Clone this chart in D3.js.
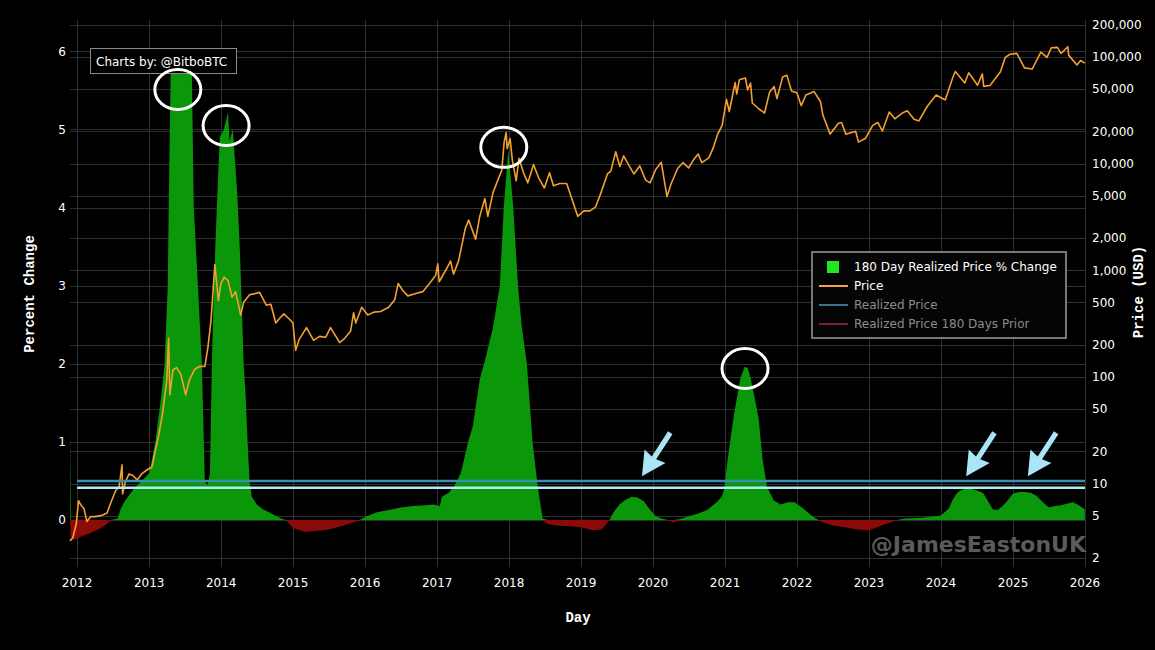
<!DOCTYPE html>
<html lang="en">
<head>
<meta charset="UTF-8">
<title>180 Day Realized Price % Change</title>
<style>
  * { margin: 0; padding: 0; }
  body { background: #000; }
  #chart { width: 1155px; height: 650px; }
  text { font-family: 'DejaVu Sans', Verdana, sans-serif; }
</style>
</head>
<body>
<div id="chart"></div>
<script src="https://cdn.jsdelivr.net/npm/d3@7"></script>
<script>
  // 180 day realized price % change (left axis)
  const changeSeries = [
    ['2011-11-26', 1.23], ['2011-11-30', -0.22], ['2011-12-10', -0.25], ['2012-01-01', -0.24],
    ['2012-02-01', -0.2], ['2012-03-15', -0.16], ['2012-05-01', -0.1], ['2012-06-01', -0.05],
    ['2012-06-20', 0], ['2012-07-25', 0.02], ['2012-08-10', 0.15], ['2012-09-01', 0.25],
    ['2012-10-15', 0.4], ['2012-12-01', 0.52], ['2013-01-01', 0.6], ['2013-02-01', 1.0],
    ['2013-03-01', 1.54], ['2013-03-20', 2.0], ['2013-04-05', 3.0], ['2013-04-10', 4.0],
    ['2013-04-20', 5.77], ['2013-08-05', 5.77], ['2013-08-15', 4.0], ['2013-09-05', 3.0],
    ['2013-09-25', 2.0], ['2013-10-05', 1.0], ['2013-10-10', 0.49], ['2013-10-25', 0.45],
    ['2013-11-05', 0.6], ['2013-11-15', 2.0], ['2013-11-25', 3.0], ['2013-12-10', 4.0],
    ['2013-12-25', 4.9], ['2014-01-15', 5.0], ['2014-02-05', 5.22], ['2014-02-12', 4.85],
    ['2014-03-01', 5.0], ['2014-03-15', 4.5], ['2014-03-25', 4.1], ['2014-04-05', 3.5],
    ['2014-04-15', 2.8], ['2014-04-25', 2.0], ['2014-05-05', 1.6], ['2014-05-15', 1.0],
    ['2014-05-25', 0.5], ['2014-06-05', 0.3], ['2014-07-01', 0.2], ['2014-08-01', 0.14],
    ['2014-09-01', 0.1], ['2014-10-01', 0.06], ['2014-11-01', 0.02], ['2014-11-25', 0],
    ['2015-01-01', -0.1], ['2015-03-01', -0.15], ['2015-05-01', -0.14], ['2015-07-01', -0.12],
    ['2015-09-01', -0.08], ['2015-11-01', -0.03], ['2015-12-05', 0], ['2016-01-01', 0.04],
    ['2016-03-01', 0.1], ['2016-05-01', 0.13], ['2016-07-01', 0.16], ['2016-09-01', 0.18],
    ['2016-11-01', 0.19], ['2016-12-15', 0.2], ['2017-01-15', 0.18], ['2017-01-25', 0.3],
    ['2017-03-01', 0.35], ['2017-04-01', 0.45], ['2017-05-01', 0.6], ['2017-06-07', 1.0],
    ['2017-07-01', 1.2], ['2017-08-05', 1.8], ['2017-09-01', 2.05], ['2017-10-10', 2.45],
    ['2017-11-15', 3.0], ['2017-12-05', 4.0], ['2017-12-28', 4.74], ['2018-01-22', 4.0],
    ['2018-02-15', 3.0], ['2018-03-05', 2.5], ['2018-04-01', 2.0], ['2018-04-30', 1.0],
    ['2018-05-25', 0.45], ['2018-06-20', 0.02], ['2018-07-15', -0.05], ['2018-09-01', -0.07],
    ['2018-11-01', -0.08], ['2019-01-01', -0.09], ['2019-03-01', -0.13], ['2019-04-15', -0.12],
    ['2019-05-10', -0.05], ['2019-05-25', 0], ['2019-06-15', 0.1], ['2019-07-15', 0.2],
    ['2019-08-15', 0.26], ['2019-09-15', 0.3], ['2019-10-15', 0.29], ['2019-11-15', 0.24],
    ['2019-12-15', 0.14], ['2020-01-15', 0.05], ['2020-02-15', 0.02], ['2020-03-15', 0],
    ['2020-04-15', -0.03], ['2020-05-15', 0.01], ['2020-07-01', 0.05], ['2020-08-15', 0.08],
    ['2020-10-01', 0.13], ['2020-11-15', 0.22], ['2020-12-15', 0.3], ['2020-12-28', 0.4],
    ['2021-01-10', 0.7], ['2021-01-25', 0.98], ['2021-02-15', 1.35], ['2021-03-01', 1.55],
    ['2021-03-20', 1.82], ['2021-04-10', 1.96], ['2021-04-25', 1.95], ['2021-05-10', 1.82],
    ['2021-06-01', 1.55], ['2021-06-20', 1.3], ['2021-07-10', 0.78], ['2021-08-01', 0.43],
    ['2021-09-05', 0.25], ['2021-10-10', 0.2], ['2021-11-15', 0.23], ['2021-12-20', 0.23],
    ['2022-02-01', 0.15], ['2022-03-15', 0.06], ['2022-04-01', 0.03], ['2022-04-20', 0],
    ['2022-05-15', -0.03], ['2022-07-01', -0.07], ['2022-09-01', -0.09], ['2022-11-01', -0.12],
    ['2023-01-01', -0.13], ['2023-02-01', -0.1], ['2023-03-15', -0.06], ['2023-05-01', -0.02],
    ['2023-05-25', 0], ['2023-07-01', 0.02], ['2023-10-01', 0.03], ['2024-01-01', 0.06],
    ['2024-02-10', 0.15], ['2024-02-28', 0.25], ['2024-03-15', 0.32], ['2024-04-01', 0.37],
    ['2024-05-01', 0.4], ['2024-06-01', 0.4], ['2024-07-01', 0.38], ['2024-08-01', 0.35],
    ['2024-08-25', 0.25], ['2024-09-20', 0.14], ['2024-10-15', 0.13], ['2024-11-05', 0.17],
    ['2024-12-01', 0.24], ['2025-01-01', 0.34], ['2025-02-01', 0.36], ['2025-03-01', 0.36],
    ['2025-04-01', 0.35], ['2025-05-01', 0.31], ['2025-06-01', 0.23], ['2025-07-01', 0.16],
    ['2025-08-01', 0.18], ['2025-09-01', 0.19], ['2025-10-01', 0.21], ['2025-11-01', 0.23],
    ['2025-12-01', 0.19], ['2025-12-31', 0.14]
  ]

  // BTC price (right log axis)
  const priceSeries = [
    ['2011-11-26', 2.9], ['2011-12-10', 3.1], ['2011-12-28', 4.2], ['2012-01-08', 6.9],
    ['2012-01-20', 6.3], ['2012-02-05', 5.8], ['2012-02-20', 4.4], ['2012-03-10', 4.9],
    ['2012-04-01', 4.9], ['2012-05-01', 5.0], ['2012-06-01', 5.3], ['2012-06-20', 6.6],
    ['2012-07-15', 8.6], ['2012-08-01', 9.3], ['2012-08-16', 15.0], ['2012-08-19', 8.0],
    ['2012-09-01', 10.2], ['2012-09-20', 12.3], ['2012-10-10', 11.9], ['2012-11-01', 10.8],
    ['2012-11-25', 12.4], ['2012-12-20', 13.4], ['2013-01-15', 14.3], ['2013-02-01', 20.4],
    ['2013-02-20', 29.5], ['2013-03-10', 46], ['2013-03-31', 93], ['2013-04-09', 230],
    ['2013-04-16', 68], ['2013-05-01', 116], ['2013-05-20', 122], ['2013-06-10', 106],
    ['2013-07-05', 68], ['2013-07-25', 95], ['2013-08-20', 118], ['2013-09-15', 126],
    ['2013-10-10', 125], ['2013-10-25', 185], ['2013-11-10', 330], ['2013-11-30', 1130],
    ['2013-12-18', 520], ['2013-12-30', 740], ['2014-01-15', 860], ['2014-02-05', 800],
    ['2014-02-25', 560], ['2014-03-15', 630], ['2014-04-10', 380], ['2014-04-25', 500],
    ['2014-05-25', 590], ['2014-06-15', 600], ['2014-07-15', 620], ['2014-08-18', 470],
    ['2014-09-10', 480], ['2014-10-05', 320], ['2014-10-25', 355], ['2014-11-15', 390],
    ['2014-12-15', 345], ['2014-12-31', 320], ['2015-01-14', 178], ['2015-02-01', 225],
    ['2015-03-10', 290], ['2015-04-15', 220], ['2015-05-15', 240], ['2015-06-15', 235],
    ['2015-07-10', 290], ['2015-08-25', 210], ['2015-09-20', 230], ['2015-10-20', 270],
    ['2015-11-04', 400], ['2015-11-15', 320], ['2015-12-15', 450], ['2016-01-15', 380],
    ['2016-02-15', 405], ['2016-03-20', 410], ['2016-04-30', 450], ['2016-05-31', 530],
    ['2016-06-17', 750], ['2016-07-10', 650], ['2016-08-05', 575], ['2016-09-15', 605],
    ['2016-10-20', 630], ['2016-11-20', 740], ['2016-12-25', 900], ['2017-01-04', 1150],
    ['2017-01-11', 780], ['2017-02-20', 1050], ['2017-03-10', 1220], ['2017-03-25', 920],
    ['2017-04-20', 1230], ['2017-05-24', 2480], ['2017-06-10', 2950], ['2017-07-15', 1950],
    ['2017-08-05', 3200], ['2017-08-31', 4700], ['2017-09-15', 3200], ['2017-10-12', 5400],
    ['2017-11-01', 6700], ['2017-11-25', 8700], ['2017-12-07', 16000], ['2017-12-17', 19500],
    ['2017-12-22', 13800], ['2018-01-06', 17200], ['2018-01-17', 10900], ['2018-02-06', 6900],
    ['2018-02-20', 11200], ['2018-03-15', 8200], ['2018-04-06', 6600], ['2018-05-05', 9800],
    ['2018-05-30', 7400], ['2018-06-29', 5900], ['2018-07-25', 8200], ['2018-08-14', 6200],
    ['2018-09-15', 6500], ['2018-10-20', 6500], ['2018-11-20', 4400], ['2018-12-15', 3200],
    ['2019-01-15', 3600], ['2019-02-15', 3600], ['2019-03-15', 3900], ['2019-04-10', 5200],
    ['2019-05-15', 8000], ['2019-06-01', 8500], ['2019-06-26', 12900], ['2019-07-17', 9400],
    ['2019-08-05', 11800], ['2019-09-01', 9600], ['2019-09-26', 8000], ['2019-10-26', 9500],
    ['2019-11-25', 7000], ['2019-12-17', 6600], ['2020-01-15', 8800], ['2020-02-12', 10300],
    ['2020-03-12', 4900], ['2020-04-01', 6400], ['2020-05-05', 9000], ['2020-06-01', 10200],
    ['2020-06-30', 9100], ['2020-07-27', 11000], ['2020-08-17', 12300], ['2020-09-05', 10200],
    ['2020-10-10', 11300], ['2020-10-31', 13800], ['2020-11-25', 19000], ['2020-12-17', 22800],
    ['2021-01-08', 40000], ['2021-01-22', 30800], ['2021-02-21', 57500], ['2021-03-01', 45000],
    ['2021-03-14', 61000], ['2021-04-14', 63500], ['2021-04-25', 49000], ['2021-05-10', 57000],
    ['2021-05-19', 37000], ['2021-06-22', 32500], ['2021-07-20', 29800], ['2021-08-15', 47000],
    ['2021-09-07', 52700], ['2021-09-21', 40700], ['2021-10-20', 65000], ['2021-11-10', 67500],
    ['2021-12-04', 48000], ['2021-12-31', 46200], ['2022-01-22', 35000], ['2022-02-15', 44000],
    ['2022-03-28', 47500], ['2022-04-30', 38000], ['2022-05-12', 28500], ['2022-06-18', 18900],
    ['2022-07-30', 23900], ['2022-08-15', 24300], ['2022-09-06', 18800], ['2022-10-25', 20100],
    ['2022-11-09', 15900], ['2022-12-15', 17300], ['2023-01-20', 22800], ['2023-02-15', 24300],
    ['2023-03-10', 20200], ['2023-04-14', 30400], ['2023-05-12', 26300], ['2023-06-22', 30000],
    ['2023-07-14', 31300], ['2023-08-18', 26000], ['2023-09-11', 25100], ['2023-10-24', 34500],
    ['2023-12-08', 44000], ['2024-01-23', 39500], ['2024-02-28', 62500], ['2024-03-14', 73000],
    ['2024-05-01', 57000], ['2024-05-21', 71000], ['2024-07-05', 54300], ['2024-07-29', 69300],
    ['2024-08-05', 53000], ['2024-09-06', 53900], ['2024-10-29', 72700], ['2024-11-22', 99000],
    ['2024-12-17', 106000], ['2025-01-20', 108000], ['2025-02-28', 79000], ['2025-04-08', 77000],
    ['2025-05-22', 111000], ['2025-06-22', 99000], ['2025-07-14', 122000], ['2025-08-14', 123000],
    ['2025-09-01', 108000], ['2025-10-06', 124700], ['2025-10-10', 104000], ['2025-11-21', 84000],
    ['2025-12-10', 92500], ['2025-12-31', 87500]
  ]

  const yearTicks = [2012, 2013, 2014, 2015, 2016, 2017, 2018, 2019, 2020, 2021, 2022, 2023, 2024, 2025, 2026]
  const percentTicks = [0, 1, 2, 3, 4, 5, 6]
  const priceTicks = [2, 5, 10, 20, 50, 100, 200, 500, 1000, 2000, 5000, 10000, 20000, 50000, 100000, 200000]
  const legendLabels = ['180 Day Realized Price % Change', 'Price', 'Realized Price', 'Realized Price 180 Days Prior']
  // annotations (hand drawn on the original): circled peaks, arrows, two guide lines
  const circledPeaks = [['2013-05-26', 5.51], ['2014-01-26', 5.05], ['2017-12-05', 4.77], ['2021-04-12', 1.94]]
  const arrowTips = [['2019-11-06', 0.56], ['2024-05-08', 0.56], ['2025-03-17', 0.56]]
  const guideLevels = [0.5, 0.415]

  const parse = d3.timeParse('%Y-%m-%d')
  const change = changeSeries.map(d => ({ date: parse(d[0]), v: d[1] }))
  const price = priceSeries.map(d => ({ date: parse(d[0]), v: d[1] }))

  const W = 1155, H = 650
  const plot = { left: 70, right: 1085, top: 20, bottom: 567 }

  const svg = d3.select('#chart').append('svg')
    .attr('width', W).attr('height', H)
  svg.append('rect').attr('width', W).attr('height', H).attr('fill', '#000')

  const x = d3.scaleTime()
    .domain([parse('2011-11-26'), parse('2026-01-01')])
    .range([plot.left, plot.right])
  const yL = d3.scaleLinear().domain([-0.6, 6.4]).range([plot.bottom, plot.top])
  const yR = d3.scaleLog().domain([1.65, 222000]).range([plot.bottom, plot.top])

  // grid
  const grid = svg.append('g').attr('stroke', '#2f2f2f').attr('stroke-width', 1)
  yearTicks.forEach(t => {
    const xx = Math.round(x(new Date(t, 0, 1))) + 0.5
    grid.append('line').attr('x1', xx).attr('x2', xx).attr('y1', plot.top).attr('y2', plot.bottom)
  })
  percentTicks.forEach(t => {
    const yy = Math.round(yL(t)) + 0.5
    grid.append('line').attr('x1', plot.left).attr('x2', plot.right).attr('y1', yy).attr('y2', yy)
  })
  priceTicks.forEach(t => {
    const yy = Math.round(yR(t)) + 0.5
    grid.append('line').attr('x1', plot.left).attr('x2', plot.right).attr('y1', yy).attr('y2', yy)
  })

  // areas
  const greenArea = d3.area().x(d => x(d.date)).y0(yL(0)).y1(d => yL(Math.max(0, d.v)))
  const redArea = d3.area().x(d => x(d.date)).y0(yL(0)).y1(d => yL(Math.min(0, d.v)))
  svg.append('path').datum(change).attr('d', redArea).attr('fill', '#8c0a0a')
  svg.append('path').datum(change).attr('d', greenArea).attr('fill', '#0a980a')

  // price
  const line = d3.line().x(d => x(d.date)).y(d => yR(d.v))
  svg.append('path').datum(price).attr('d', line)
    .attr('fill', 'none').attr('stroke', '#f5a02e').attr('stroke-width', 1.6)
    .attr('stroke-linejoin', 'round')

  // guide lines
  const guideColors = ['#3b8db4', '#b2eaf4']
  guideLevels.forEach((v, i) => {
    svg.append('line')
      .attr('x1', x(new Date(2012, 0, 1))).attr('x2', plot.right)
      .attr('y1', yL(v)).attr('y2', yL(v))
      .attr('stroke', guideColors[i]).attr('stroke-width', 2.5)
  })

  // axes labels
  const xAxis = svg.append('g').attr('fill', '#fff').attr('font-size', 12).attr('text-anchor', 'middle')
  yearTicks.forEach(t => {
    xAxis.append('text').attr('x', x(new Date(t, 0, 1))).attr('y', 587).text(t)
  })
  const leftAxis = svg.append('g').attr('fill', '#fff').attr('font-size', 12).attr('text-anchor', 'end')
  percentTicks.forEach(t => {
    leftAxis.append('text').attr('x', 66).attr('y', yL(t)).attr('dy', '0.36em').text(t)
  })
  const rightAxis = svg.append('g').attr('fill', '#fff').attr('font-size', 12)
  priceTicks.forEach(t => {
    rightAxis.append('text').attr('x', 1092).attr('y', yR(t)).attr('dy', '0.36em').text(d3.format(',')(t))
  })

  const titleFont = "'Liberation Mono', 'Courier New', monospace"
  svg.append('text').attr('transform', 'translate(34,294) rotate(-90)')
    .attr('text-anchor', 'middle').attr('fill', '#fff').attr('font-weight', 'bold')
    .style('font-family', titleFont).attr('font-size', 14).text('Percent Change')
  svg.append('text').attr('transform', 'translate(1143,292) rotate(-90)')
    .attr('text-anchor', 'middle').attr('fill', '#fff').attr('font-weight', 'bold')
    .style('font-family', titleFont).attr('font-size', 14).text('Price (USD)')
  svg.append('text').attr('x', 578).attr('y', 622)
    .attr('text-anchor', 'middle').attr('fill', '#fff').attr('font-weight', 'bold')
    .style('font-family', titleFont).attr('font-size', 14).text('Day')

  // credit box
  svg.append('rect').attr('x', 90.5).attr('y', 48.5).attr('width', 146).attr('height', 25)
    .attr('fill', '#000').attr('stroke', '#8a8a8a').attr('stroke-width', 1)
  svg.append('text').attr('x', 96).attr('y', 65.5).attr('fill', '#fff').attr('font-size', 12)
    .text('Charts by: @BitboBTC')

  // legend
  const lg = svg.append('g')
  lg.append('rect').attr('x', 812).attr('y', 252).attr('width', 254).attr('height', 86)
    .attr('fill', '#050505').attr('stroke', '#767676').attr('stroke-width', 2)
  const legendColors = ['#22e622', '#f0a04a', '#3d6f8c', '#7a2233']
  const legendText = ['#fff', '#fff', '#8c8c8c', '#8c8c8c']
  legendLabels.forEach((label, i) => {
    const yy = 267 + i * 19
    if (i === 0) {
      lg.append('rect').attr('x', 827).attr('y', yy - 6).attr('width', 12).attr('height', 12)
        .attr('fill', legendColors[i])
    } else {
      lg.append('line').attr('x1', 819).attr('x2', 848).attr('y1', yy).attr('y2', yy)
        .attr('stroke', legendColors[i]).attr('stroke-width', 2)
    }
    lg.append('text').attr('x', 854).attr('y', yy).attr('dy', '0.36em')
      .attr('fill', legendText[i]).attr('font-size', 12).text(label)
  })

  // circled peaks
  circledPeaks.forEach(d => {
    svg.append('ellipse').attr('cx', x(parse(d[0]))).attr('cy', yL(d[1]))
      .attr('rx', 23).attr('ry', 20)
      .attr('fill', 'none').attr('stroke', '#fff').attr('stroke-width', 3)
  })

  // arrows pointing at the small bumps
  const arrowPath = 'M-52,-2.6L-22,-2.6L-24,-12.5L0,0L-24,12.5L-22,2.6L-52,2.6Z'
  arrowTips.forEach(d => {
    svg.append('path').attr('d', arrowPath)
      .attr('transform', 'translate(' + x(parse(d[0])) + ',' + yL(d[1]) + ') rotate(123)')
      .attr('fill', '#a9e4f7')
  })

  // watermark
  svg.append('text').attr('x', 1086).attr('y', 552).attr('text-anchor', 'end')
    .attr('font-size', 22).attr('font-weight', 'bold').attr('fill', '#5b5b5b')
    .text('@JamesEastonUK')
</script>
</body>
</html>
